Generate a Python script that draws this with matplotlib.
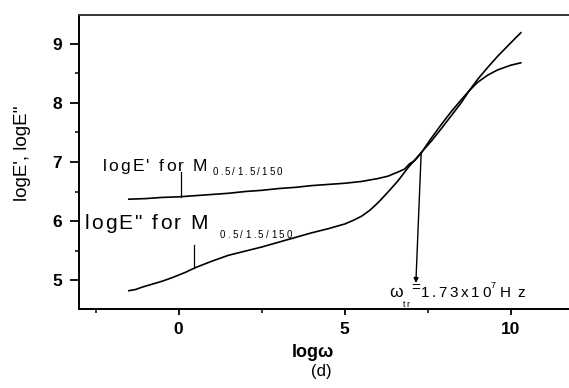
import matplotlib
matplotlib.use("Agg")
import matplotlib.pyplot as plt
from matplotlib.font_manager import FontProperties
from matplotlib.textpath import TextPath
from matplotlib.ticker import MultipleLocator

# ---- data ----
x_e1 = [-1.5, -1.0, -0.5, 0.0, 0.5, 1.0, 1.5, 2.0, 2.5, 3.0, 3.5, 4.0, 4.5, 5.0,
        5.5, 6.0, 6.3, 6.6, 6.8, 6.95, 7.1, 7.3, 7.6, 7.9, 8.2, 8.5, 8.75, 9.0,
        9.3, 9.6, 10.0, 10.3]
logE1 = [6.37, 6.38, 6.40, 6.41, 6.43, 6.45, 6.47, 6.50, 6.52, 6.55, 6.57, 6.60,
         6.62, 6.64, 6.67, 6.72, 6.76, 6.83, 6.88, 6.97, 7.02, 7.15, 7.40, 7.63,
         7.85, 8.05, 8.21, 8.35, 8.47, 8.56, 8.64, 8.68]

x_e2 = [-1.5, -1.3, -1.1, -0.8, -0.5, -0.2, 0.2, 0.5, 1.0, 1.5, 2.0, 2.5, 3.0,
        3.5, 4.0, 4.5, 5.0, 5.25, 5.5, 5.75, 6.0, 6.3, 6.6, 6.9, 7.1, 7.3, 7.6,
        7.9, 8.2, 8.5, 8.75, 9.0, 9.3, 9.6, 10.0, 10.3]
logE2 = [4.82, 4.84, 4.88, 4.93, 4.98, 5.04, 5.13, 5.21, 5.32, 5.42, 5.49, 5.56,
         5.64, 5.72, 5.80, 5.87, 5.95, 6.01, 6.08, 6.18, 6.31, 6.49, 6.68, 6.90,
         7.03, 7.16, 7.35, 7.56, 7.78, 8.00, 8.21, 8.40, 8.60, 8.79, 9.02, 9.19]

x_ticks = [0, 5, 10]
y_ticks = [5, 6, 7, 8, 9]

# crossover annotation
cross_pt = (7.30, 7.15)
arrow_tip = (7.14, 4.95)

FAM = "Liberation Sans"

fig = plt.figure(figsize=(5.69, 3.88), dpi=100)
ax = fig.add_axes([79 / 569, 1 - 309 / 388, 1 - 79 / 569, (309 - 15) / 388])

ax.plot(x_e1, logE1, color="black", lw=1.2)
ax.plot(x_e2, logE2, color="black", lw=1.2)

ax.set_xlim(-3.0, 11.75)
ax.set_ylim(4.51, 9.49)
ax.set_xticks(x_ticks)
ax.set_yticks(y_ticks)
ax.xaxis.set_minor_locator(MultipleLocator(2.5))
ax.yaxis.set_minor_locator(MultipleLocator(0.5))

for lab in ax.get_xticklabels() + ax.get_yticklabels():
    lab.set_fontfamily(FAM)
    lab.set_fontweight("bold")
    lab.set_fontsize(12.5)

ax.tick_params(axis="y", which="major", direction="out", length=6.5, width=1.3, pad=5.5)
ax.tick_params(axis="y", which="minor", direction="out", length=3, width=1.1)
ax.tick_params(axis="x", which="major", direction="out", length=4.3, width=1.3, pad=5)
ax.tick_params(axis="x", which="minor", direction="out", length=2.8, width=1.1)

ax.spines["right"].set_visible(False)
ax.spines["left"].set_linewidth(1.4)
ax.spines["bottom"].set_linewidth(1.4)
ax.spines["top"].set_linewidth(1.4)
ax.spines["top"].set_color("#333333")


def adv(ch, fp, fs):
    w1 = TextPath((0, 0), "H" + ch + "H", size=fs, prop=fp).get_extents().width
    w0 = TextPath((0, 0), "HH", size=fs, prop=fp).get_extents().width
    return w1 - w0


def spaced(x, y, s, fs, track, weight="normal"):
    fp = FontProperties(family=FAM, size=fs, weight=weight)
    off = 0.0
    for ch in s:
        if ch != " ":
            ax.annotate(ch, (x, y), xycoords="data", xytext=(off, 0),
                        textcoords="offset points", fontsize=fs, family=FAM,
                        fontweight=weight, ha="left", va="baseline",
                        annotation_clip=False)
        off += adv(ch, fp, fs) + track


# curve labels
spaced(-2.29, 6.85, "logE' for M", 12.5, 1.6)
spaced(1.02, 6.78, "0.5/1.5/150", 7, 1.5)
spaced(-2.83, 5.86, 'logE" for M', 15, 1.5)
spaced(1.23, 5.72, "0.5/1.5/150", 7, 1.7)

# pointer ticks
ax.plot([0.06, 0.06], [6.83, 6.41], color="black", lw=0.9)
ax.plot([0.45, 0.45], [5.59, 5.20], color="black", lw=0.9)

# crossover arrow and label
ax.annotate("", xy=arrow_tip, xytext=cross_pt,
            arrowprops=dict(arrowstyle="-|>", color="black", lw=1.0,
                            mutation_scale=7, shrinkA=0, shrinkB=0))
spaced(6.33, 4.71, "\u03c9", 12.5, 0)
spaced(6.75, 4.55, "tr", 6.5, 0.8)
spaced(7.00, 4.80, "=", 11, 0)
spaced(7.28, 4.71, "1.73x10", 11, 1.9)
spaced(9.40, 4.86, "7", 6.5, 0)
spaced(9.67, 4.71, "Hz", 11, 4.5)

# axis labels
ax.set_ylabel("logE', logE''", fontsize=13.5, family=FAM)
ax.yaxis.set_label_coords((31 - 79) / 490, (309 - 153) / 294)
fig.text(312.5 / 569, 1 - 357 / 388, "log\u03c9", fontsize=13, family=FAM,
         fontweight="bold", ha="center", va="baseline")
fig.text(321.5 / 569, 1 - 376 / 388, "(d)", fontsize=12, family=FAM,
         ha="center", va="baseline")

fig.savefig("out.png", dpi=100)
